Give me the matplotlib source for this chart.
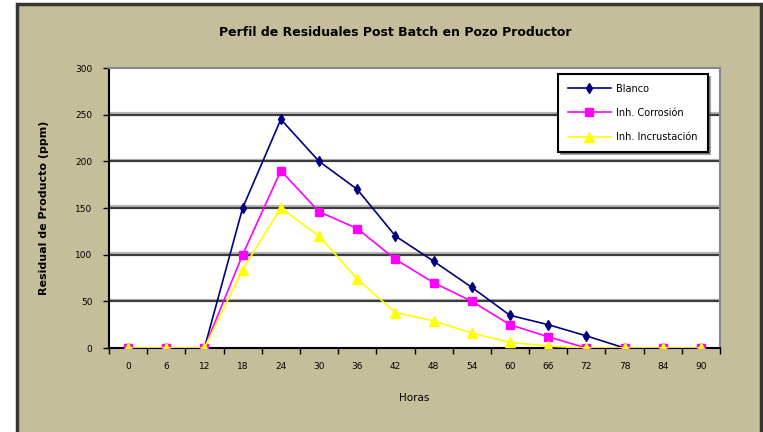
import numpy as np
import matplotlib
matplotlib.use("Agg")
import matplotlib.pyplot as plt
import matplotlib.patheffects as pe
from matplotlib.patches import Rectangle

horas = ["0", "6", "12", "18", "24", "30", "36", "42", "48", "54", "60", "66", "72", "78", "84", "90"]
blanco = [0, 0, 0, 150, 245, 200, 170, 120, 93, 65, 35, 25, 13, 0, 0, 0]
inh_corrosion = [0, 0, 0, 100, 190, 146, 128, 95, 70, 50, 25, 12, 0, 0, 0, 0]
inh_incrustacion = [0, 0, 0, 84, 150, 120, 74, 38, 29, 16, 6, 2, 0, 0, 0, 0]
y_ticks = [0, 50, 100, 150, 200, 250, 300]

bg = "#c5be9a"
fig = plt.figure(figsize=(7.63, 4.32), dpi=100)
fig.patch.set_facecolor("white")

# chart area frame, kept behind the axes
fig.patches.append(Rectangle((17 / 763, -0.01), 744 / 763, 1 - 4 / 432 + 0.01,
                             transform=fig.transFigure, facecolor=bg,
                             edgecolor="#363630", linewidth=2.5, zorder=-10))

ax = fig.add_axes([109 / 763, (432 - 348) / 432, (720 - 109) / 763, 280 / 432])
ax.set_facecolor("white")

x = np.arange(len(horas))
ax.set_xlim(-0.5, len(horas) - 0.5)
ax.set_ylim(0, 300)

# gridlines with a light shadow above
grid_fx = [pe.Stroke(offset=(0, 1.2), linewidth=1.6, foreground="#b8b8b8"), pe.Normal()]
for yv in y_ticks[1:-1]:
    ax.axhline(yv, color="#3c3c3c", linewidth=1.6, zorder=1, path_effects=grid_fx)

ax.plot(x, inh_incrustacion, color="#ffff00", marker="^", markersize=6.5,
        linewidth=1.2, label="Inh. Incrustación", zorder=3)
ax.plot(x, inh_corrosion, color="#ff00ff", marker="s", markersize=6,
        linewidth=1.2, label="Inh. Corrosión", zorder=2.9)
ax.plot(x, blanco, color="#000080", marker="d", markersize=5,
        linewidth=1.2, label="Blanco", zorder=2.8)

ax.set_xticks(np.arange(-0.5, len(horas)), minor=False)
ax.set_xticklabels([])
ax.set_xticks(x, minor=True)
ax.set_xticklabels(horas, minor=True, fontsize=6.5)
ax.tick_params(axis="x", which="major", direction="out", length=4, width=1)
ax.tick_params(axis="x", which="minor", length=0, pad=10)
ax.set_yticks(y_ticks)
ax.set_yticklabels([str(v) for v in y_ticks], fontsize=6.5)
ax.tick_params(axis="y", direction="out", length=4, width=1, pad=8)

for side in ["left", "bottom"]:
    ax.spines[side].set_color("black")
    ax.spines[side].set_linewidth(1.5)
for side in ["top", "right"]:
    ax.spines[side].set_color("#888888")
    ax.spines[side].set_linewidth(1.5)

ax.set_xlabel("Horas", fontsize=7.5, labelpad=16)
ax.set_ylabel("Residual de Producto (ppm)", fontsize=8, fontweight="bold", labelpad=19)
fig.text(395 / 763, 1 - 32 / 432, "Perfil de Residuales Post Batch en Pozo Productor",
         ha="center", va="center", fontsize=9, fontweight="bold")

handles, labels = ax.get_legend_handles_labels()
order = [2, 1, 0]
leg = ax.legend([handles[i] for i in order], [labels[i] for i in order],
                loc="upper left", bbox_to_anchor=((558 - 109) / 611, 1 - 6 / 280),
                prop={"size": 7}, frameon=True, fancybox=False, shadow=True,
                handlelength=4.4, handletextpad=0.6, borderpad=1.0,
                labelspacing=1.45, borderaxespad=0)
leg.get_frame().set_edgecolor("black")
leg.get_frame().set_linewidth(1.5)

fig.savefig("out.png", dpi=100, facecolor=fig.get_facecolor())
